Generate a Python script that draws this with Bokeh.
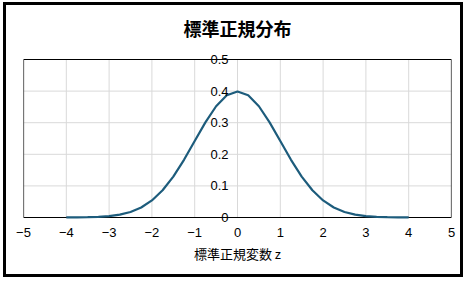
from bokeh.plotting import figure
from bokeh.embed import file_html
from bokeh.resources import INLINE
from bokeh.models import FixedTicker, ColumnDataSource, LabelSet
from bokeh.core.properties import value

# data: standard normal density
z = [-4.0, -3.75, -3.5, -3.25, -3.0, -2.75, -2.5, -2.25, -2.0, -1.75, -1.5, -1.25, -1.0,
     -0.75, -0.5, -0.25, 0.0, 0.25, 0.5, 0.75, 1.0, 1.25, 1.5, 1.75, 2.0, 2.25, 2.5,
     2.75, 3.0, 3.25, 3.5, 3.75, 4.0]
pdf = [0.0001, 0.0004, 0.0009, 0.0020, 0.0044, 0.0091, 0.0175, 0.0317, 0.0540, 0.0863,
       0.1295, 0.1826, 0.2420, 0.3011, 0.3521, 0.3867, 0.3989, 0.3867, 0.3521, 0.3011,
       0.2420, 0.1826, 0.1295, 0.0863, 0.0540, 0.0317, 0.0175, 0.0091, 0.0044, 0.0020,
       0.0009, 0.0004, 0.0001]
x_ticks = [-5, -4, -3, -2, -1, 0, 1, 2, 3, 4, 5]
y_ticks = [0, 0.1, 0.2, 0.3, 0.4, 0.5]
y_tick_labels = ["0", "0.1", "0.2", "0.3", "0.4", "0.5"]
title_text = "標準正規分布"
x_label = "標準正規変数 z"

FONT = "Noto Sans CJK JP"
NUMFONT = "Liberation Sans"
GRID = "#d9d9d9"

# frame is a little taller than the plotted box so the y labels at the edges are not clipped
pad_top = 10 / 316
pad_bot = 7 / 316
p = figure(width=460, height=275, x_range=(-5, 5),
           y_range=(y_ticks[0] - pad_bot, y_ticks[-1] + pad_top),
           output_backend="svg", toolbar_location=None,
           min_border_left=17, min_border_right=15, min_border_top=44, min_border_bottom=56)
p.styles = {"border": "3px solid black", "margin-left": "3px", "margin-top": "2px"}
p.outline_line_color = None
p.grid.visible = False

p.title.text = title_text
p.title.align = "center"
p.title.vertical_align = "top"
p.title.text_font = FONT
p.title.text_font_size = "18px"
p.title.text_font_style = "bold"
p.title.text_color = "black"
p.title.offset = 0
p.title.standoff = 14

n_x = len(x_ticks)
n_y = len(y_ticks)
# grid lines
p.segment(x0=x_ticks, y0=[y_ticks[0]] * n_x, x1=x_ticks, y1=[y_ticks[-1]] * n_x,
          line_color=GRID, line_width=1)
p.segment(x0=[x_ticks[0]] * n_y, y0=y_ticks, x1=[x_ticks[-1]] * n_y, y1=y_ticks,
          line_color=GRID, line_width=1)
# plot box
p.quad(left=x_ticks[0], right=x_ticks[-1], bottom=y_ticks[0], top=y_ticks[-1],
       fill_color=None, line_color="black", line_width=1.2)

p.line(z, pdf, line_color="#1d5c7c", line_width=2.2)

p.xaxis.ticker = FixedTicker(ticks=x_ticks)
p.yaxis.visible = False
p.xaxis.axis_line_color = None
p.xaxis.major_tick_line_color = None
p.xaxis.minor_tick_line_color = None
p.xaxis.major_tick_out = 0
p.xaxis.major_tick_in = 0
p.xaxis.minor_tick_out = 0
p.xaxis.major_label_standoff = 3
p.xaxis.major_label_text_font = NUMFONT
p.xaxis.major_label_text_font_size = "13px"
p.xaxis.major_label_text_color = "black"
p.xaxis.axis_label = x_label
p.xaxis.axis_label_text_font = FONT
p.xaxis.axis_label_text_font_size = "13px"
p.xaxis.axis_label_text_font_style = "normal"
p.xaxis.axis_label_text_color = "black"
p.xaxis.axis_label_standoff = 4

# y tick labels placed along the vertical line at z = 0
ysrc = ColumnDataSource(dict(x=[0] * n_y, y=y_ticks, t=y_tick_labels))
p.add_layout(LabelSet(x="x", y="y", text="t", source=ysrc, x_offset=-9,
                      text_align="right", text_baseline="middle",
                      text_font=value(NUMFONT), text_font_size=value("13px"),
                      text_color="black", level="overlay"))

open("out.html", "w").write(file_html(p, INLINE))
